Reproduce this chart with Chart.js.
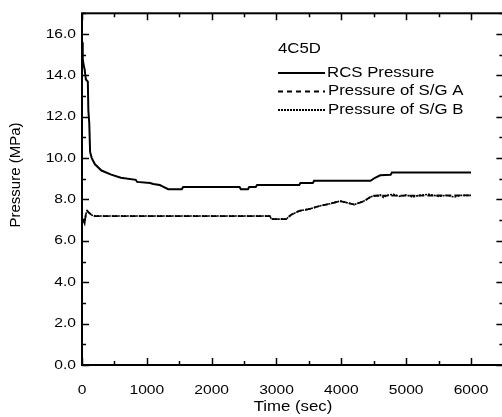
<!DOCTYPE html>
<html>
<head>
<meta charset="utf-8">
<script src="https://cdn.jsdelivr.net/npm/chart.js@4"></script>
<style>
  html, body { margin: 0; padding: 0; background: #fff; overflow: hidden; }
  #wrap { width: 510px; height: 417px; }
</style>
</head>
<body>
<div id="wrap"><canvas id="pressChart" width="510" height="417"></canvas></div>
<script>
// time (sec) and pressure (MPa)
const rcsTime = [0, 8, 15, 25, 40, 60, 90, 98, 112, 125, 150, 200, 300, 450, 600, 830, 850, 1050, 1100, 1200, 1250, 1330, 1540, 1560, 2430, 2450, 2560, 2580, 2680, 2700, 3350, 3370, 3560, 3580, 4450, 4520, 4600, 4760, 4780, 6000];
const rcsPress = [15.6, 15.2, 14.8, 14.5, 14.3, 13.8, 13.7, 12.3, 11.7, 10.3, 10.0, 9.7, 9.4, 9.2, 9.05, 8.95, 8.85, 8.8, 8.75, 8.7, 8.62, 8.5, 8.5, 8.6, 8.6, 8.5, 8.5, 8.6, 8.6, 8.7, 8.7, 8.8, 8.8, 8.9, 8.9, 9.05, 9.17, 9.2, 9.3, 9.3];

const sgaTime = [0, 20, 40, 60, 80, 110, 150, 200, 2900, 2920, 3150, 3220, 3350, 3520, 3680, 3830, 3980, 4080, 4200, 4330, 4390, 4470, 6000];
const sgaPress = [6.9, 7.0, 6.85, 7.3, 7.45, 7.35, 7.25, 7.2, 7.2, 7.05, 7.05, 7.25, 7.45, 7.55, 7.7, 7.8, 7.92, 7.85, 7.75, 7.9, 8.0, 8.18, 8.2];

const sgbTime = [0, 20, 40, 60, 80, 110, 150, 200, 2900, 2920, 3150, 3220, 3350, 3520, 3680, 3830, 3980, 4080, 4200, 4330, 4390, 4470, 4600, 4650, 4700, 4800, 4900, 5000, 5100, 5200, 5350, 5500, 5600, 5750, 5850, 6000];
const sgbPress = [6.9, 7.0, 6.85, 7.3, 7.45, 7.35, 7.25, 7.2, 7.2, 7.05, 7.05, 7.25, 7.45, 7.55, 7.7, 7.8, 7.92, 7.85, 7.75, 7.9, 8.0, 8.15, 8.22, 8.1, 8.2, 8.25, 8.15, 8.22, 8.12, 8.2, 8.25, 8.15, 8.2, 8.12, 8.2, 8.2];

const xTicks = [0, 1000, 2000, 3000, 4000, 5000, 6000];
const yTicks = [0, 2, 4, 6, 8, 10, 12, 14, 16];
const caseName = '4C5D';
const seriesNames = ['RCS Pressure', 'Pressure of S/G A', 'Pressure of S/G B'];

const pts = (t, v) => t.map((x, i) => ({ x: x, y: v[i] }));

// text in the original is a bit wider than Arial, so stretch it horizontally
function stretchText(ctx, txt, x, y, align, font) {
  ctx.save();
  ctx.font = font;
  ctx.textBaseline = 'middle';
  ctx.textAlign = align;
  ctx.translate(x, y);
  ctx.scale(1.2, 1);
  ctx.fillText(txt, 0, 0);
  ctx.restore();
}

const framePlugin = {
  id: 'frame',
  afterDraw(chart) {
    const ctx = chart.ctx;
    const a = chart.chartArea;
    const xs = chart.scales.x, ys = chart.scales.y;
    ctx.save();
    ctx.strokeStyle = '#000';
    ctx.fillStyle = '#000';
    ctx.lineWidth = 2;
    ctx.strokeRect(a.left, a.top, a.right - a.left, a.bottom - a.top);

    ctx.lineWidth = 1.5;
    ctx.beginPath();
    for (let t = 0; t <= 6500; t += 500) {
      const px = Math.round(xs.getPixelForValue(t)) + 0.5;
      const len = t % 1000 === 0 ? 7 : 4;
      ctx.moveTo(px, a.bottom); ctx.lineTo(px, a.bottom - len);
      ctx.moveTo(px, a.top); ctx.lineTo(px, a.top + len);
    }
    for (let v = 0; v <= 17; v += 1) {
      const py = Math.round(ys.getPixelForValue(v)) + 0.5;
      const len = v % 2 === 0 ? 7 : 4;
      ctx.moveTo(a.left, py); ctx.lineTo(a.left + len, py);
      ctx.moveTo(a.right, py); ctx.lineTo(a.right - len, py);
    }
    ctx.stroke();

    const tickFont = '13px "Liberation Sans", Arial, sans-serif';
    xTicks.forEach(t => stretchText(ctx, String(t), xs.getPixelForValue(t), 390, 'center', tickFont));
    yTicks.forEach(v => stretchText(ctx, v.toFixed(1), a.left - 6, ys.getPixelForValue(v), 'right', tickFont));

    stretchText(ctx, 'Time (sec)', 293, 407, 'center', '14px "Liberation Sans", Arial, sans-serif');
    ctx.save();
    ctx.translate(16, 175);
    ctx.rotate(-Math.PI / 2);
    ctx.font = '15px "Liberation Sans", Arial, sans-serif';
    ctx.textAlign = 'center';
    ctx.textBaseline = 'middle';
    ctx.fillText('Pressure (MPa)', 0, 0);
    ctx.restore();

    // legend
    const legFont = '14px "Liberation Sans", Arial, sans-serif';
    stretchText(ctx, caseName, 278, 49, 'left', legFont);
    const rows = [73, 91.5, 110];
    const dashes = [[], [5, 4], [2, 1]];
    chart.data.datasets.forEach((ds, i) => {
      ctx.save();
      ctx.lineWidth = 1.8;
      ctx.setLineDash(dashes[i]);
      ctx.beginPath();
      ctx.moveTo(278, rows[i]);
      ctx.lineTo(325, rows[i]);
      ctx.stroke();
      ctx.restore();
      stretchText(ctx, ds.label, i === 0 ? 327 : 328, rows[i], 'left', legFont);
    });
    ctx.restore();
  }
};

const ctx = document.getElementById('pressChart').getContext('2d');

const pressChart = new Chart(ctx, {
  type: 'line',
  data: {
    datasets: [
      {
        label: seriesNames[0],
        data: pts(rcsTime, rcsPress),
        borderColor: '#000',
        borderWidth: 2,
      },
      {
        label: seriesNames[1],
        data: pts(sgaTime, sgaPress),
        borderColor: '#000',
        borderWidth: 1.8,
        borderDash: [6, 3],
      },
      {
        label: seriesNames[2],
        data: pts(sgbTime, sgbPress),
        borderColor: '#000',
        borderWidth: 1.6,
        borderDash: [2, 1],
      },
    ],
  },
  options: {
    responsive: false,
    animation: false,
    devicePixelRatio: 1,
    events: [],
    elements: { point: { radius: 0 }, line: { tension: 0 } },
    layout: { padding: { left: 82, right: 6.6, top: 13.3, bottom: 52 } },
    plugins: {
      legend: { display: false },
      tooltip: { enabled: false },
    },
    scales: {
      x: { type: 'linear', min: 0, max: 6500, display: false },
      y: { type: 'linear', min: 0, max: 17, display: false },
    },
  },
  plugins: [framePlugin],
});
</script>
</body>
</html>
